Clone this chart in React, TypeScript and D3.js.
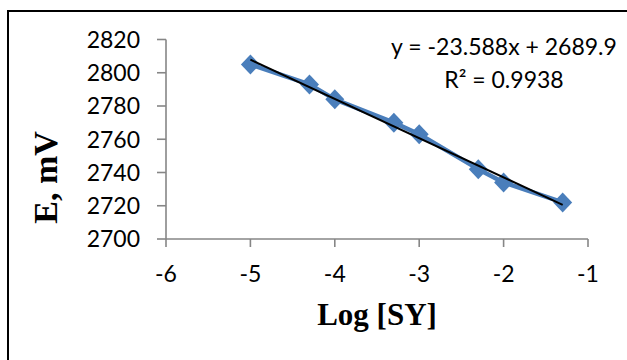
import * as React from "react";
import { line, scaleLinear } from "d3";

// data
const logConc = [-5, -4.3, -4, -3.3, -3, -2.3, -2, -1.3];
const potential = [2805, 2793, 2784, 2770, 2763, 2742, 2734, 2722];
const xTicks = [-6, -5, -4, -3, -2, -1];
const yTicks = [2700, 2720, 2740, 2760, 2780, 2800, 2820];
const slope = -23.588;
const intercept = 2689.9;
const trendRange = [-5, -1.3];

const W = 627;
const H = 360;
const tickFont = "Lato, 'Open Sans', sans-serif";
const titleFont = "'Liberation Serif', 'Times New Roman', serif";
const axisGrey = "#868686";
const blue = "#4a7ebb";

export default function App() {
  const x = scaleLinear().domain([-6, -1]).range([166, 588]);
  const y = scaleLinear().domain([2700, 2820]).range([239, 39.5]);

  const pts = logConc.map((d, i) => [d, potential[i]] as [number, number]);
  const path = line<[number, number]>()
    .x((d) => x(d[0]))
    .y((d) => y(d[1]));
  const trend = trendRange.map((d) => [d, slope * d + intercept] as [number, number]);

  const diamond = (cx: number, cy: number) =>
    `M${cx},${cy - 10}L${cx + 9.5},${cy}L${cx},${cy + 10}L${cx - 9.5},${cy}Z`;

  return (
    <div style={{ position: "fixed", left: 0, top: 0 }}>
      <svg width={W} height={H} style={{ display: "block", background: "white" }}>
        {/* chart frame, runs past the right and bottom edge */}
        <rect x={8} y={11} width={700} height={400} fill="white" stroke="black" strokeWidth={2} />

        {/* axes */}
        <g stroke={axisGrey} strokeWidth={1.6} fill="none">
          <line x1={x(-6)} x2={x(-6)} y1={y(2820)} y2={y(2700)} />
          <line x1={x(-6)} x2={x(-1)} y1={y(2700)} y2={y(2700)} />
          {yTicks.map((t) => (
            <line key={"yt" + t} x1={x(-6) - 9} x2={x(-6)} y1={y(t)} y2={y(t)} />
          ))}
          {xTicks.map((t) => (
            <line key={"xt" + t} x1={x(t)} x2={x(t)} y1={y(2700)} y2={y(2700) + 8} />
          ))}
        </g>

        <g fontFamily={tickFont} fontSize={23} fill="black">
          {yTicks.map((t) => (
            <text key={"yl" + t} x={140} y={y(t)} dy="0.36em" textAnchor="end">
              {t}
            </text>
          ))}
          {xTicks.map((t) => (
            <text key={"xl" + t} x={x(t)} y={282} textAnchor="middle">
              {t}
            </text>
          ))}
        </g>

        {/* series */}
        <path d={path(pts) || ""} fill="none" stroke={blue} strokeWidth={4.5} strokeLinejoin="round" />
        {pts.map((p, i) => (
          <path key={"m" + i} d={diamond(x(p[0]), y(p[1]))} fill={blue} />
        ))}
        <path d={path(trend) || ""} fill="none" stroke="black" strokeWidth={2} />

        {/* trendline label */}
        <g fontFamily={tickFont} fontSize={23} fill="black" textAnchor="middle">
          <text x={504} y={55}>y = -23.588x + 2689.9</text>
          <text x={504} y={88}>R² = 0.9938</text>
        </g>

        {/* axis titles */}
        <text x={377} y={325} textAnchor="middle" fontFamily={titleFont} fontWeight="bold" fontSize={31}>
          Log [SY]
        </text>
        <text
          transform={`translate(57,${177.5}) rotate(-90)`}
          textAnchor="middle"
          fontFamily={titleFont}
          fontWeight="bold"
          fontSize={34}
        >
          E, mV
        </text>
      </svg>
    </div>
  );
}
